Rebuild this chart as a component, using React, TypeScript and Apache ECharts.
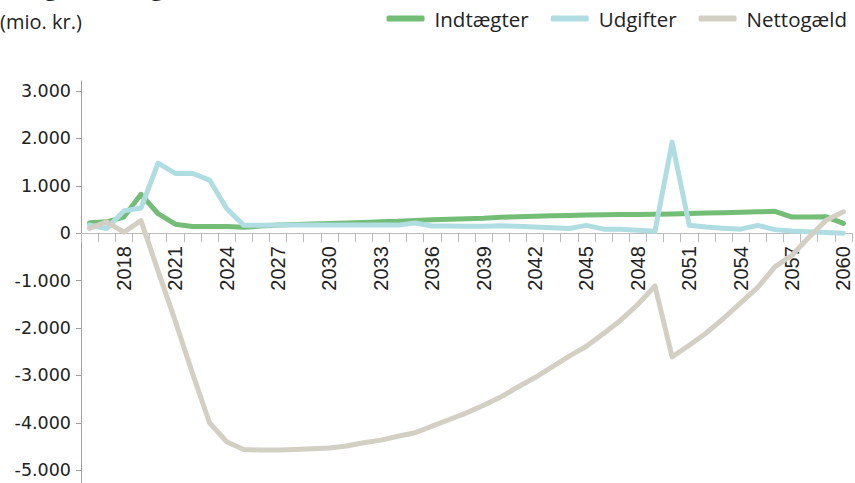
import React, { useEffect, useRef } from "react";
import * as echarts from "echarts";

const years: string[] = [
  "2016","2017","2018","2019","2020","2021","2022","2023","2024","2025",
  "2026","2027","2028","2029","2030","2031","2032","2033","2034","2035",
  "2036","2037","2038","2039","2040","2041","2042","2043","2044","2045",
  "2046","2047","2048","2049","2050","2051","2052","2053","2054","2055",
  "2056","2057","2058","2059","2060",
];

const indtaegter: number[] = [
  220, 240, 340, 820, 410, 190, 140, 140, 140, 125,
  150, 170, 185, 195, 205, 215, 225, 240, 250, 270,
  285, 295, 305, 315, 335, 345, 355, 365, 375, 385,
  390, 395, 395, 400, 405, 415, 425, 432, 440, 450,
  462, 340, 340, 345, 205,
];

const udgifter: number[] = [
  170, 100, 470, 530, 1480, 1260, 1260, 1120, 520, 165,
  165, 170, 170, 170, 170, 170, 170, 170, 170, 215,
  150, 150, 148, 145, 155, 145, 130, 115, 100, 165,
  85, 85, 60, 40, 1920, 165, 130, 105, 85, 165,
  75, 45, 30, 15, 0,
];

const nettogaeld: number[] = [
  100, 240, 20, 265, -800, -1850, -2950, -4000, -4400, -4565,
  -4575, -4575, -4565, -4550, -4530, -4490, -4420, -4365, -4285, -4210,
  -4070, -3930, -3790, -3630, -3455, -3245, -3045, -2820, -2595, -2385,
  -2115, -1835, -1505, -1115, -2610, -2365, -2105, -1800, -1470, -1145,
  -710, -465, -80, 275, 450,
];

const yTicks: number[] = [-5000, -4000, -3000, -2000, -1000, 0, 1000, 2000, 3000];

const seriesNames = ["Indtægter", "Udgifter", "Nettogæld"];
const colors = ["#73bd76", "#b0dde2", "#d3cfc3"];

const Y_MIN = -5270;
const Y_MAX = 3210;
const GRID_TOP = 81;
const GRID_BOTTOM_Y = 483;

function fmt(v: number): string {
  if (v === 0) return "0";
  const sign = v < 0 ? "-" : "";
  const a = Math.abs(v);
  const s = String(a).replace(/\B(?=(\d{3})+(?!\d))/g, ".");
  return sign + s;
}

export default function App() {
  const ref = useRef<HTMLDivElement>(null);
  useEffect(() => {
    if (!ref.current) return;
    const chart = echarts.init(ref.current, undefined, { renderer: "svg" });
    const dataSets = [indtaegter, udgifter, nettogaeld];
    const plotH = GRID_BOTTOM_Y - GRID_TOP;
    const zeroY = GRID_TOP + (Y_MAX / (Y_MAX - Y_MIN)) * plotH;
    chart.setOption({
      animation: false,
      color: colors,
      graphic: [
        {
          type: "text",
          x: 0,
          y: -2,
          style: {
            text: "Langtidsbudget",
            fontFamily: "Open Sans",
            fontSize: 26,
            fill: "#222",
            verticalAlign: "bottom",
          },
        },
        {
          type: "text",
          x: 0,
          y: 21,
          style: {
            text: "(mio. kr.)",
            fontFamily: "Open Sans",
            fontSize: 20,
            fill: "#222",
            verticalAlign: "middle",
          },
        },
      ],
      legend: {
        right: 3,
        top: 3,
        icon: "roundRect",
        itemWidth: 38,
        itemHeight: 6,
        itemGap: 22,
        textStyle: {
          fontFamily: "Open Sans",
          fontSize: 20.5,
          color: "#222",
          padding: [0, 0, 0, 5],
        },
        data: seriesNames,
      },
      grid: {
        left: 81,
        right: 3,
        top: GRID_TOP,
        bottom: 483 - GRID_BOTTOM_Y,
        containLabel: false,
        outerBoundsMode: "none",
      },
      xAxis: {
        type: "category",
        data: years,
        boundaryGap: true,
        offset: -(GRID_BOTTOM_Y - zeroY),
        axisLine: { onZero: false, lineStyle: { color: "#bbbbbb", width: 1 } },
        axisTick: { show: true, interval: 0, length: 9, lineStyle: { color: "#bbbbbb" } },
        axisLabel: {
          interval: (i: number) => (i - 2) % 3 === 0,
          rotate: 90,
          margin: 13,
          fontSize: 20,
          fontFamily: "Liberation Sans",
          color: "#222",
          hideOverlap: false,
        },
        splitLine: { show: false },
      },
      yAxis: {
        type: "value",
        min: Y_MIN,
        max: Y_MAX,
        splitLine: { show: false },
        axisLine: { show: true, lineStyle: { color: "#a0a0a0" } },
        axisTick: { show: true, length: 5, customValues: yTicks, lineStyle: { color: "#a0a0a0" } },
        axisLabel: {
          customValues: yTicks,
          formatter: (v: number) => fmt(v),
          fontFamily: "DejaVu Sans",
          fontSize: 17.5,
          color: "#222",
          margin: 10,
        },
      },
      series: seriesNames.map((name, i) => ({
        name,
        type: "line",
        data: dataSets[i],
        symbol: "none",
        showSymbol: false,
        lineStyle: { width: 5, color: colors[i], cap: "round", join: "round" },
        itemStyle: { color: colors[i] },
      })),
    });
    return () => chart.dispose();
  }, []);
  return (
    <div
      ref={ref}
      style={{ position: "absolute", left: 0, top: 0, width: 855, height: 483 }}
    />
  );
}
